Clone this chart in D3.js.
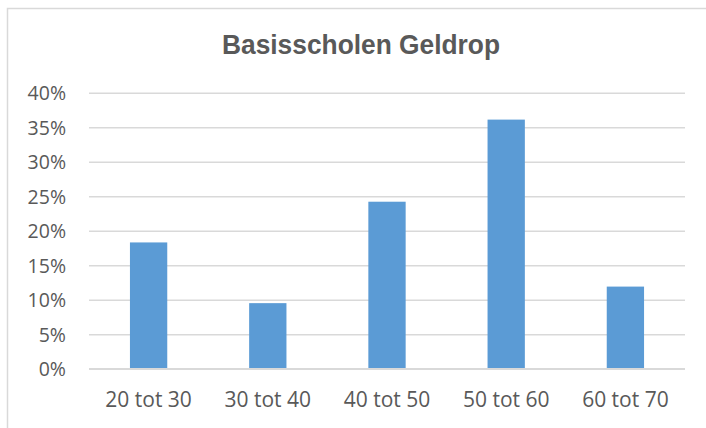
<!DOCTYPE html>
<html>

<head>
    <meta charset="UTF-8">
    <style>
        body { margin: 0; background: #fff; }
    </style>
</head>

<body>
    <div id="my_dataviz"></div>

    <script src="https://d3js.org/d3.v7.min.js"></script>
    <script>
        // chart data
        const categories = ["20 tot 30", "30 tot 40", "40 tot 50", "50 tot 60", "60 tot 70"];
        const values = [0.183, 0.095, 0.242, 0.361, 0.119];
        const yTicks = [0, 0.05, 0.10, 0.15, 0.20, 0.25, 0.30, 0.35, 0.40];
        const title = "Basisscholen Geldrop";

        const W = 706, H = 428;
        const margin = { top: 92.7, right: 21, bottom: 59.3, left: 89 };

        const svg = d3.select("#my_dataviz")
            .append("svg")
            .attr("width", W)
            .attr("height", H);

        // chart area border (right/bottom fall outside the picture)
        svg.append("rect")
            .attr("x", 7.5).attr("y", 8.5)
            .attr("width", W + 20).attr("height", H + 20)
            .attr("fill", "none")
            .attr("stroke", "#d9d9d9")
            .attr("stroke-width", 1.5);

        svg.append("text")
            .attr("x", 361)
            .attr("y", 54)
            .attr("text-anchor", "middle")
            .attr("textLength", 278)
            .attr("lengthAdjust", "spacingAndGlyphs")
            .style("font-family", "'Liberation Sans', Arial, sans-serif")
            .style("font-weight", "bold")
            .style("font-size", "28px")
            .style("fill", "#595959")
            .text(title);

        const x = d3.scaleBand()
            .domain(categories)
            .range([margin.left, W - margin.right])
            .paddingInner(0.687)
            .paddingOuter(0.3435);

        const y = d3.scaleLinear()
            .domain([0, 0.40])
            .range([H - margin.bottom, margin.top]);

        // gridlines + y labels
        const yAxis = svg.append("g")
            .attr("transform", "translate(" + margin.left + ",0)")
            .call(d3.axisLeft(y)
                .tickValues(yTicks)
                .tickFormat(d3.format(".0%"))
                .tickSize(-(W - margin.left - margin.right))
                .tickPadding(23));
        yAxis.select(".domain").remove();
        yAxis.selectAll(".tick line")
            .attr("stroke", "#d9d9d9")
            .attr("stroke-width", 1.5);
        yAxis.selectAll(".tick text")
            .attr("dy", "0.36em")
            .style("font-family", "'Open Sans', sans-serif")
            .style("font-size", "19.5px")
            .style("fill", "#595959");

        // bars
        svg.append("g")
            .selectAll("rect")
            .data(values)
            .enter().append("rect")
            .attr("x", function (d, i) { return x(categories[i]); })
            .attr("y", function (d) { return y(d); })
            .attr("width", x.bandwidth())
            .attr("height", function (d) { return y(0) - y(d); })
            .attr("fill", "#5b9bd5");

        // baseline redrawn over bars
        svg.append("line")
            .attr("x1", margin.left).attr("x2", W - margin.right)
            .attr("y1", y(0)).attr("y2", y(0))
            .attr("stroke", "#d9d9d9")
            .attr("stroke-width", 1.5);

        // x labels
        const xAxis = svg.append("g")
            .attr("transform", "translate(0," + y(0) + ")")
            .call(d3.axisBottom(x).tickSize(0).tickPadding(0));
        xAxis.select(".domain").remove();
        xAxis.selectAll(".tick text")
            .attr("y", 38.6)
            .attr("dy", 0)
            .style("font-family", "'Open Sans', sans-serif")
            .style("font-size", "21px")
            .style("fill", "#595959");
    </script>
</body>

</html>
